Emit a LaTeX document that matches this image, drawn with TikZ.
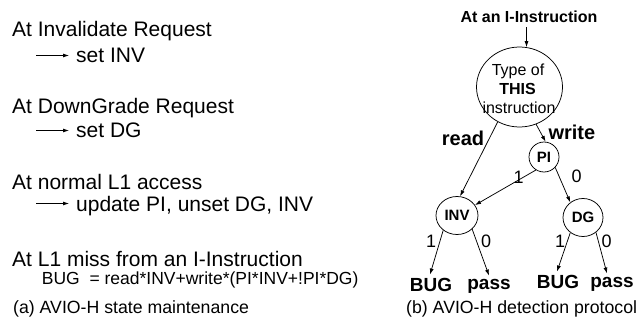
\documentclass[tikz,border=0pt]{standalone}
\usepackage{fontspec}
\setmainfont{Liberation Sans}
\usetikzlibrary{arrows.meta,shapes.geometric}
\begin{document}
\begin{tikzpicture}[x=1pt,y=-1pt,
  txt/.style={inner sep=0pt, anchor=base west, font=\fontsize{21}{25}\selectfont},
  sub/.style={inner ysep=0pt, inner xsep=7pt, anchor=base west, font=\fontsize{21}{25}\selectfont},
  eqn/.style={inner sep=0pt, anchor=base west, font=\fontsize{17.5}{21}\selectfont},
  captxt/.style={inner sep=0pt, anchor=base west, font=\fontsize{17.7}{20}\selectfont},
  arr/.style={-{Latex[length=6pt,width=4pt]}, line width=0.75pt},
  bub/.style={ellipse, draw, line width=0.75pt, inner sep=0pt, font=\bfseries\fontsize{15}{18}\selectfont},
  intxt/.style={inner sep=0pt, anchor=base, font=\fontsize{16}{19}\selectfont},
  lbl/.style={inner sep=3pt, anchor=base, font=\bfseries\fontsize{19}{23}\selectfont},
  brl/.style={inner sep=0pt, anchor=base west, font=\bfseries\fontsize{20}{24}\selectfont},
  num/.style={inner sep=0pt, font=\fontsize{18}{21}\selectfont},
  ]
\useasboundingbox (0,0) rectangle (642,326);

% ---------- left panel ----------
\node[txt] (l1) at (12,37) {At Invalidate Request};
\coordinate (a1) at (36,55.5);
\node[sub] (l2) at (69,62.5) {set INV};
\draw[arr] (a1) -- (a1 -| l2.west);

\node[txt] (l3) at (12,113.3) {At DownGrade Request};
\coordinate (a2) at (36,130.5);
\node[sub] (l4) at (69,137.7) {set DG};
\draw[arr] (a2) -- (a2 -| l4.west);

\node[txt] (l5) at (12,189.5) {At normal L1 access};
\coordinate (a3) at (36,203.5);
\node[sub] (l6) at (69,211) {update PI, unset DG, INV};
\draw[arr] (a3) -- (a3 -| l6.west);

\node[txt] (l7) at (12,266.7) {At L1 miss from an I-Instruction};
\node[eqn] (l8) at (41.7,284) {BUG\ \ = read*INV+write*(PI*INV+!PI*DG)};

\node[captxt] (capa) at (13,313) {(a) AVIO-H state maintenance};

% ---------- right panel ----------
\node[inner ysep=4pt, inner xsep=0pt, anchor=base, font=\bfseries\fontsize{16}{19}\selectfont] (title) at (529,22.7) {At an I-Instruction};

\node[bub, minimum width=86pt, minimum height=80pt] (big) at (519.5,87) {};
\node[intxt] (t1) at (518,75.5) {Type of};
\node[intxt, font=\bfseries\fontsize{16}{19}\selectfont] (t2) at (517.5,95) {THIS};
\node[intxt] (t3) at (519,113.3) {instruction};

\draw[arr] (title.south -| big.80) -- (big.80);

\node[bub, minimum width=30pt, minimum height=30pt] (pi) at (544,157) {PI};
\node[bub, minimum width=42pt, minimum height=38pt] (inv) at (457,215.5) {INV};
\node[bub, minimum width=40pt, minimum height=38pt] (dg) at (583,217.5) {DG};

\node[brl] (read) at (441.7,146) {read};
\node[brl] (write) at (548.3,139.3) {write};

\draw[arr] (big.238) -- (inv.81);
\draw[arr] (big.294) -- (pi.84);
\draw[arr] (pi.238) -- (inv.30);
\draw[arr] (pi.317) -- (dg.130);

\node[num] (n1) at (518.5,177) {1};
\node[num] (n2) at (576.7,176) {0};

\node[lbl] (bug1) at (431,291) {BUG};
\node[lbl] (pass1) at (489,289) {pass};
\node[lbl] (bug2) at (558,288) {BUG};
\node[lbl] (pass2) at (612,287) {pass};

\draw[arr] (inv.227) -- ([xshift=-1pt]bug1.north);
\draw[arr] (inv.318) -- (pass1.north);
\draw[arr] (dg.230) -- ([xshift=-1pt]bug2.north);
\draw[arr] (dg.311) -- ([xshift=-5pt]pass2.north);

\node[num] (n3) at (431,241) {1};
\node[num] (n4) at (486,241) {0};
\node[num] (n5) at (560,241) {1};
\node[num] (n6) at (606.7,241) {0};

\node[captxt] (capb) at (406,313) {(b) AVIO-H detection protocol};
\end{tikzpicture}
\end{document}
